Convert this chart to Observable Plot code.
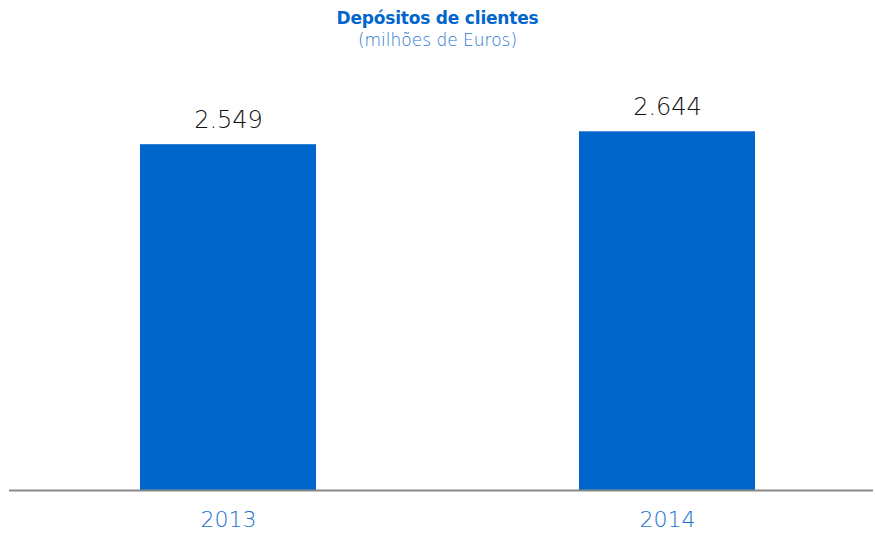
<!DOCTYPE html>
<html><head><meta charset="utf-8">
<script src="https://cdn.jsdelivr.net/npm/d3@7"></script>
<script src="https://cdn.jsdelivr.net/npm/@observablehq/plot@0.6"></script>
<style>
body{margin:0;background:#fff;font-family:"DejaVu Sans",sans-serif;}
#head{height:55px;text-align:center;color:#0066cc;}
#t{font-weight:700;font-size:17px;padding-top:8px;line-height:21px;letter-spacing:-0.2px;}
#s{font-weight:200;font-size:17px;line-height:22px;color:#1f76d4;}
</style></head>
<body>
<div id="head"><div id="t">Depósitos de clientes</div><div id="s">(milhões de Euros)</div></div>
<div id="chart"></div>
<script>
const years = ["2013", "2014"];
const deposits = [2549, 2644];
const data = years.map((y, i) => ({year: y, value: deposits[i]}));
const fmt = d3.formatLocale({decimal: ",", thousands: ".", grouping: [3], currency: ["", "€"]}).format(",d");
const chart = Plot.plot({
  width: 875, height: 478,
  marginTop: 28, marginBottom: 43, marginLeft: 9, marginRight: 2,
  style: {fontFamily: "'DejaVu Sans', sans-serif", background: "#fff"},
  x: {domain: years, range: [140, 755], paddingInner: 0.6, paddingOuter: 0, label: null, tickSize: 0, tickPadding: 22},
  y: {domain: [0, 3000], axis: null},
  marks: [
    Plot.barY(data, {x: "year", y: "value", fill: "#0066cc"}),
    Plot.ruleY([0], {stroke: "#888", strokeWidth: 2}),
    Plot.text(data, {x: "year", y: "value", text: d => fmt(d.value), dy: -24, lineAnchor: "middle", fontSize: 24, fontWeight: 200, fill: "#111"}),
    Plot.axisX({tickSize: 0, tickPadding: 21, fontSize: 22, fontWeight: 200, fill: "#1a72d2", label: null})
  ]
});
document.getElementById("chart").appendChild(chart);
</script>
</body></html>
